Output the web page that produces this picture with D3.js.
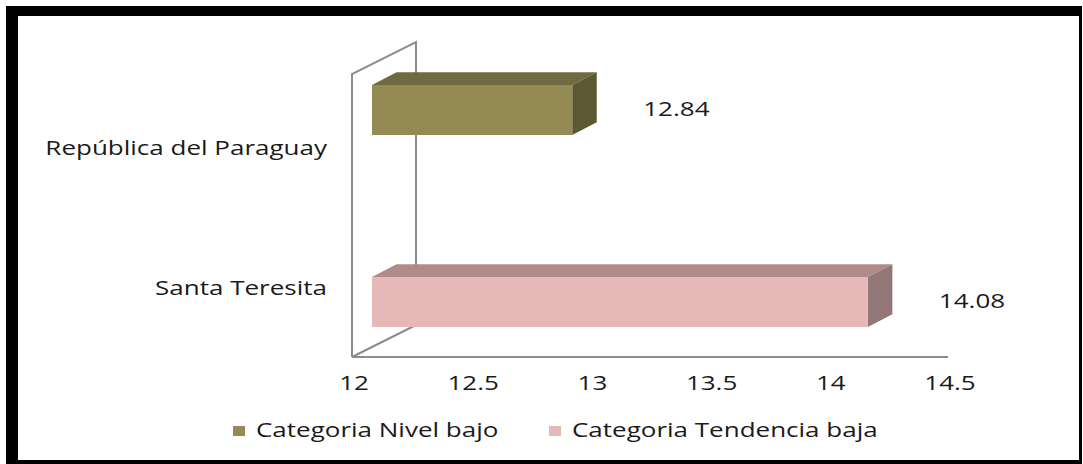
<!DOCTYPE html>
<html>
<head>
<meta charset="utf-8">
<script src="https://cdn.jsdelivr.net/npm/d3@7"></script>
<style>
  body { margin: 0; background: #fff; }
  text { font-family: "Open Sans", "Noto Sans", sans-serif; fill: #1a1a1a; }
</style>
</head>
<body>
<div id="chart"></div>
<script>
// chart data
const categories = ["República del Paraguay", "Santa Teresita"];
const values = [12.84, 14.08];
const seriesNames = ["Categoria Nivel bajo", "Categoria Tendencia baja"];
const xTicks = [12, 12.5, 13, 13.5, 14, 14.5];

// colours per series: front, top, side
const colours = [
  { front: "#948a54", top: "#6f6a41", side: "#5d5834" },
  { front: "#e6b9b8", top: "#b08b8a", side: "#937877" }
];

const width = 1083;
const height = 464;
const stretch = 1.3;   // text in the original is drawn wide

const svg = d3.create("svg")
    .attr("width", width)
    .attr("height", height);

// frame: thick black border on top/left, thinner on right/bottom
svg.append("rect")
    .attr("x", 6).attr("y", 6)
    .attr("width", 1076).attr("height", 458)
    .attr("fill", "#000");
svg.append("rect")
    .attr("x", 18).attr("y", 16)
    .attr("width", 1061).attr("height", 444)
    .attr("fill", "#fff");

// front plane x scale
const x = d3.scaleLinear()
    .domain([12, 14.5])
    .range([352, 948]);

// depth of the 3d box (full) and of a bar
const depth = { dx: 64, dy: -32 };
const barFront = 20;           // bar front face shift along depth
const barDepth = { dx: 24.5, dy: -12.7 };
const barH = 50;

const floorY = 357;
const wallTop = 74;

// bar centres and label centres
const yBar = d3.scalePoint().domain(categories).range([110, 302]);
const yLabel = d3.scalePoint().domain(categories).range([148, 288]);

const place = (px, py) => `translate(${px},${py}) scale(${stretch},1)`;

// walls
const wall = svg.append("g")
    .attr("fill", "none")
    .attr("stroke", "#8c8c8c")
    .attr("stroke-width", 2);

const x0 = x.range()[0];
wall.append("path")
    .attr("d", `M${x0},${floorY}V${wallTop}l${depth.dx},${depth.dy}V${floorY + depth.dy}`);
wall.append("path")
    .attr("d", `M${x0},${floorY}l${depth.dx},${depth.dy}`);
wall.append("path")
    .attr("d", `M${x0},${floorY}H${x.range()[1]}`);

// bars
const bars = svg.append("g")
  .selectAll("g")
  .data(categories.map((c, i) => ({ cat: c, value: values[i], col: colours[i] })))
  .join("g");

const left = x(12) + barFront;
bars.each(function(d) {
  const g = d3.select(this);
  const right = x(d.value) + barFront;
  const top = yBar(d.cat) - barH / 2;
  const bot = top + barH;
  // top face
  g.append("path")
      .attr("fill", d.col.top)
      .attr("d", `M${left},${top}L${left + barDepth.dx},${top + barDepth.dy}H${right + barDepth.dx}L${right},${top}Z`);
  // side face
  g.append("path")
      .attr("fill", d.col.side)
      .attr("d", `M${right},${top}L${right + barDepth.dx},${top + barDepth.dy}V${bot + barDepth.dy}L${right},${bot}Z`);
  // front face
  g.append("rect")
      .attr("x", left)
      .attr("y", top)
      .attr("width", right - left)
      .attr("height", barH)
      .attr("fill", d.col.front);
  // value label
  g.append("text")
      .attr("transform", place(right + 71, yBar(d.cat) + 6))
      .attr("font-size", 20)
      .text(d.value.toFixed(2));
});

// category labels
svg.append("g")
  .selectAll("text")
  .data(categories)
  .join("text")
    .attr("transform", d => place(327, yLabel(d) + 7))
    .attr("text-anchor", "end")
    .attr("font-size", 20)
    .text(d => d);

// x tick labels
svg.append("g")
  .selectAll("text")
  .data(xTicks)
  .join("text")
    .attr("transform", d => place(x(d) + 2, 390))
    .attr("text-anchor", "middle")
    .attr("font-size", 20)
    .text(d => d);

// legend
const legendX = [233, 549];
const legend = svg.append("g")
  .selectAll("g")
  .data(seriesNames)
  .join("g")
    .attr("transform", (d, i) => `translate(${legendX[i]},426)`);
legend.append("rect")
    .attr("width", 12)
    .attr("height", 10)
    .attr("fill", (d, i) => colours[i].front);
legend.append("text")
    .attr("transform", place(23, 11))
    .attr("font-size", 20)
    .text(d => d);

document.getElementById("chart").append(svg.node());
</script>
</body>
</html>
